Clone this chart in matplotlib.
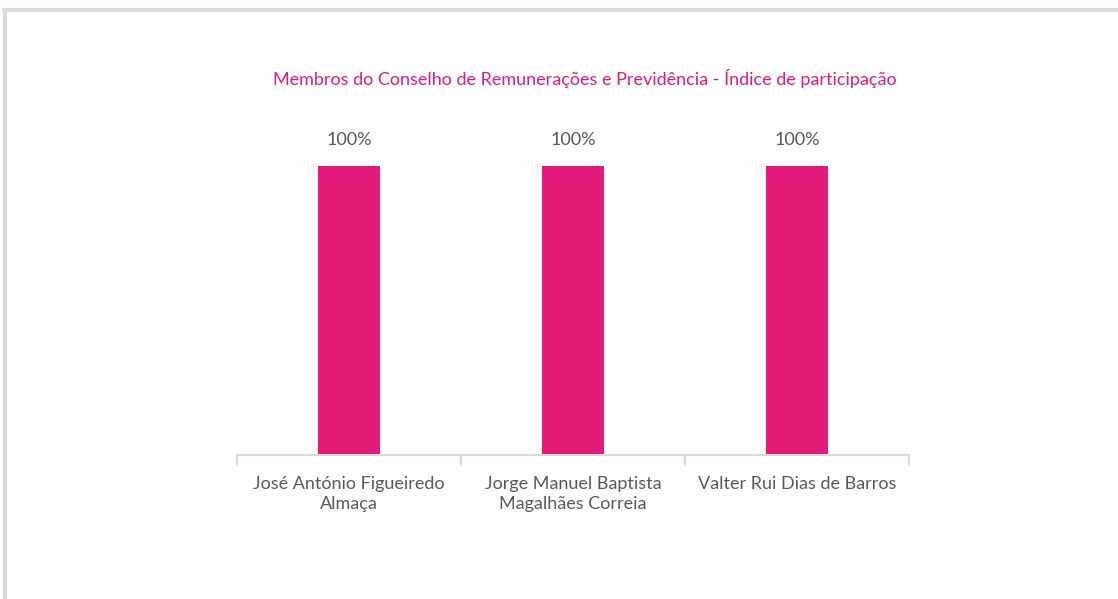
import numpy as np
import matplotlib.pyplot as plt
from matplotlib.lines import Line2D

# Dados
membros = ["José António Figueiredo\nAlmaça",
           "Jorge Manuel Baptista\nMagalhães Correia",
           "Valter Rui Dias de Barros"]
participacao = [1.0, 1.0, 1.0]
rotulos = ["100%", "100%", "100%"]

titulo = "Membros do Conselho de Remunerações e Previdência - Índice de participação"

rosa = "#E31B78"
cinza = "#D9D9D9"
texto = "#595959"

plt.rcParams['font.family'] = ['Lato', 'DejaVu Sans']

fig = plt.figure(figsize=(11.18, 5.99), dpi=100)

# moldura cinzenta (topo e esquerda)
fig.add_artist(Line2D([0.004, 1.0], [1 - 10/599, 1 - 10/599], transform=fig.transFigure,
                      color=cinza, linewidth=3))
fig.add_artist(Line2D([5/1118, 5/1118], [0, 1 - 10/599], transform=fig.transFigure,
                      color=cinza, linewidth=3))

ax = fig.add_axes([237/1118, 1 - 455/599, 672/1118, 347/599])

x = np.arange(len(membros))
ax.bar(x, participacao, width=0.28, color=rosa, zorder=2)

for xi, v, r in zip(x, participacao, rotulos):
    ax.text(xi, v + 0.09, r, ha='center', va='center', fontsize=13, color=texto)

ax.set_xlim(-0.5, len(membros) - 0.5)
ax.set_ylim(0, 1.2)

ax.set_yticks([])
ax.set_xticks(x)
ax.set_xticklabels(membros, fontsize=13, color=texto, linespacing=1.3)
ax.tick_params(axis='x', length=0, pad=15)
ax.set_xticks(np.arange(-0.5, len(membros)), minor=True)
ax.tick_params(axis='x', which='minor', length=7, width=1.5, color=cinza)

for s in ['top', 'right', 'left']:
    ax.spines[s].set_visible(False)
ax.spines['bottom'].set_color(cinza)
ax.spines['bottom'].set_linewidth(1.5)

fig.text(585/1118, 1 - 78/599, titulo, ha='center', va='center', fontsize=13, color=rosa)

fig.savefig("out.png", dpi=100, facecolor='white')
